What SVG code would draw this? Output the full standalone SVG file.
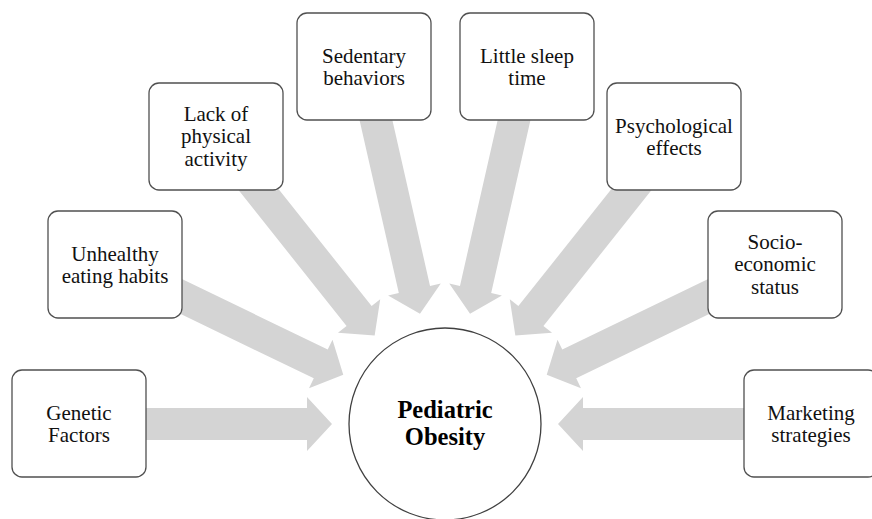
<svg xmlns="http://www.w3.org/2000/svg" xmlns:xlink="http://www.w3.org/1999/xlink" width="872" height="519" viewBox="0 0 872 519">
<style>
.box{fill:#ffffff;stroke:#505050;stroke-width:1.3}
.lbl{font-size:21px;fill:#111111;text-anchor:middle}
.ctr{font-size:24.5px;font-weight:bold;fill:#000000;text-anchor:middle}
.arr{fill:#d4d4d4}
</style>
<defs>
<path id="arrow" d="M-366,-16 L-138,-16 L-138,-27 L-113,0 L-138,27 L-138,16 L-366,16 Z"/>
</defs>
<rect width="872" height="519" fill="#ffffff"/>
<g id="connectors" class="arr">
<use xlink:href="#arrow" transform="translate(445,424) rotate(0)"/>
<use xlink:href="#arrow" transform="translate(445,424) rotate(25.8)"/>
<use xlink:href="#arrow" transform="translate(445,424) rotate(51.5)"/>
<use xlink:href="#arrow" transform="translate(445,424) rotate(77.2)"/>
<use xlink:href="#arrow" transform="translate(445,424) rotate(102.8)"/>
<use xlink:href="#arrow" transform="translate(445,424) rotate(128.5)"/>
<use xlink:href="#arrow" transform="translate(445,424) rotate(154.2)"/>
<use xlink:href="#arrow" transform="translate(445,424) rotate(180)"/>
</g>
<g font-family="'Liberation Serif', 'DejaVu Serif', serif">
<g id="center">
<circle cx="445" cy="424" r="96" fill="#ffffff" stroke="#404040" stroke-width="1.3"/>
<text class="ctr" x="445" y="418">Pediatric</text>
<text class="ctr" x="445" y="445">Obesity</text>
</g>
<g id="genetic">
<rect class="box" x="12" y="370" width="134" height="107" rx="10"/>
<text class="lbl" x="79" y="420">Genetic</text>
<text class="lbl" x="79" y="442">Factors</text>
</g>
<g id="unhealthy">
<rect class="box" x="48" y="211" width="134" height="107" rx="10"/>
<text class="lbl" x="115" y="261">Unhealthy</text>
<text class="lbl" x="115" y="283">eating habits</text>
</g>
<g id="lack">
<rect class="box" x="149" y="83" width="134" height="107" rx="10"/>
<text class="lbl" x="216" y="120.5">Lack of</text>
<text class="lbl" x="216" y="143">physical</text>
<text class="lbl" x="216" y="165.5">activity</text>
</g>
<g id="sedentary">
<rect class="box" x="297" y="13" width="134" height="107" rx="10"/>
<text class="lbl" x="364" y="63">Sedentary</text>
<text class="lbl" x="364" y="85">behaviors</text>
</g>
<g id="sleep">
<rect class="box" x="460" y="13" width="134" height="107" rx="10"/>
<text class="lbl" x="527" y="63">Little sleep</text>
<text class="lbl" x="527" y="85">time</text>
</g>
<g id="psychological">
<rect class="box" x="607" y="83" width="134" height="107" rx="10"/>
<text class="lbl" x="674" y="133">Psychological</text>
<text class="lbl" x="674" y="155">effects</text>
</g>
<g id="socio">
<rect class="box" x="708" y="211" width="134" height="107" rx="10"/>
<text class="lbl" x="775" y="248.5">Socio-</text>
<text class="lbl" x="775" y="271">economic</text>
<text class="lbl" x="775" y="293.5">status</text>
</g>
<g id="marketing">
<rect class="box" x="744" y="370" width="134" height="107" rx="10"/>
<text class="lbl" x="811" y="420">Marketing</text>
<text class="lbl" x="811" y="442">strategies</text>
</g>
</g>
</svg>
